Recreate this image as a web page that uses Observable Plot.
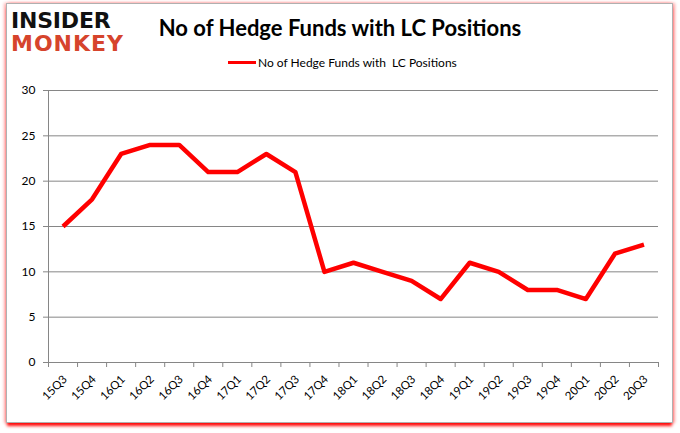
<!DOCTYPE html>
<html>
<head>
<meta charset="utf-8">
<script src="https://cdn.jsdelivr.net/npm/d3@7"></script>
<script src="https://cdn.jsdelivr.net/npm/@observablehq/plot@0.6"></script>
<style>
  html, body { margin: 0; padding: 0; background: #fff; }
  #wrap { position: relative; width: 680px; height: 433px; overflow: hidden; background: #fff; font-family: Lato, "Open Sans", sans-serif; }
  #frame { position: absolute; left: 6px; top: 3px; width: 665px; height: 418px; border: 1px solid #b0b0b0;
    box-shadow: 0 4px 3px -1px rgba(255,0,0,0.95), 2px 0 3px rgba(255,0,0,0.35), -2px 0 3px rgba(255,0,0,0.3); background: #fff; }
  .logo { position: absolute; left: 11px; font-family: "DejaVu Sans", sans-serif; font-weight: 900; line-height: 22px; height: 22px; font-size: 22px; white-space: nowrap; }
  #logoA { top: 10px; color: #111; letter-spacing: -0.2px; }
  #logoB { top: 33px; color: #d6442c; letter-spacing: 1px; }
  #title { position: absolute; left: 0; width: 680px; top: 14px; text-align: center; font-weight: 700; font-size: 22px; color: #000; }
  #legend { position: absolute; top: 55px; left: 228px; font-size: 12px; color: #000; display: flex; align-items: center; }
  #legend .sw { width: 28px; height: 3px; background: #ff0000; margin-right: 2px; }
  #chart { position: absolute; left: 0; top: 0; }
</style>
</head>
<body>
<div id="wrap">
  <div id="frame"></div>
  <div id="chart"></div>
  <div class="logo" id="logoA">INSIDER</div>
  <div class="logo" id="logoB">MONKEY</div>
  <div id="title">No of Hedge Funds with LC Positions</div>
  <div id="legend"><span class="sw"></span><span>No of Hedge Funds with&nbsp; LC Positions</span></div>
</div>
<script>
const quarters = ["15Q3","15Q4","16Q1","16Q2","16Q3","16Q4","17Q1","17Q2","17Q3","17Q4","18Q1","18Q2","18Q3","18Q4","19Q1","19Q2","19Q3","19Q4","20Q1","20Q2","20Q3"];
const funds = [15,18,23,24,24,21,21,23,21,10,11,10,9,7,11,10,8,8,7,12,13];
const yTicks = [0,5,10,15,20,25,30];

const data = quarters.map((q, i) => ({i, q, v: funds[i]}));
const n = quarters.length;
const grey = "#868686";

const chart = Plot.plot({
  width: 680,
  height: 433,
  marginLeft: 48,
  marginRight: 22,
  marginTop: 90,
  marginBottom: 71,
  style: { background: "transparent", fontFamily: "Lato, 'Open Sans', sans-serif", fontSize: "12px", color: "#000" },
  x: { type: "linear", domain: [-0.5, n - 0.5], axis: null },
  y: { domain: [0, 30], axis: null },
  marks: [
    Plot.gridY(yTicks, { stroke: grey, strokeOpacity: 1, strokeWidth: 1 }),
    Plot.axisY({ ticks: yTicks, tickSize: 5, tickPadding: 8, stroke: grey, strokeOpacity: 1, fill: "#000", fontSize: 12, label: null }),
    Plot.frame({ anchor: "left", stroke: grey, strokeOpacity: 1 }),
    Plot.frame({ anchor: "bottom", stroke: grey, strokeOpacity: 1 }),
    Plot.axisX({ ticks: d3.range(-0.5, n, 1), tickSize: 5, tickFormat: () => "", stroke: grey, strokeOpacity: 1, label: null }),
    Plot.axisX({ ticks: d3.range(n), tickSize: 0, tickPadding: 10, tickRotate: -45, tickFormat: i => quarters[i], fill: "#000", fontSize: 11.5, dx: 2, dy: 5, label: null }),
    Plot.line(data, { x: "i", y: "v", stroke: "#ff0000", strokeWidth: 4.5, strokeLinejoin: "round", strokeLinecap: "butt" })
  ]
});
document.getElementById("chart").appendChild(chart);
</script>
</body>
</html>
